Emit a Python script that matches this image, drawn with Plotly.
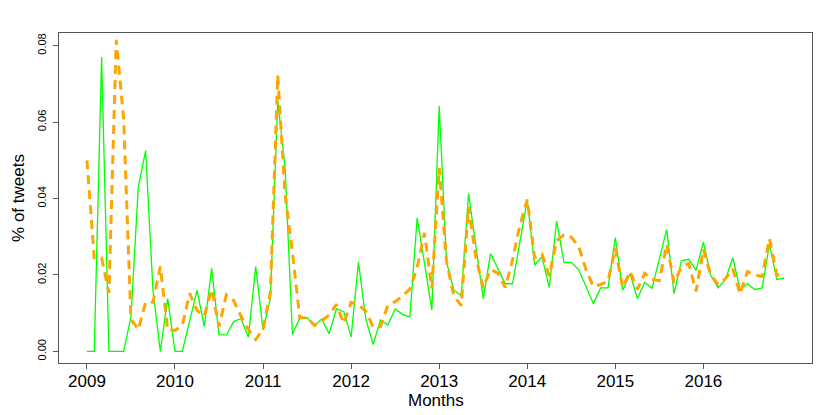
import plotly.graph_objects as go

# Monthly time axis, Jan 2009 .. Dec 2016 (decimal years)
start_year = 2009
n_months = 96
months = [start_year + i / 12 for i in range(n_months)]

green_share = [
    0.0, 0.0, 0.077, 0.0, 0.0, 0.0, 0.009, 0.043, 0.0525, 0.016, 0.0, 0.0138,
    0.0, 0.0, 0.008, 0.016, 0.0065, 0.0217, 0.0044, 0.0043, 0.0078, 0.0086, 0.0037, 0.0222,
    0.0056, 0.014, 0.0656, 0.048, 0.0045, 0.0087, 0.0088, 0.0066, 0.0085, 0.0046, 0.0111, 0.0104,
    0.0038, 0.0233, 0.0085, 0.0018, 0.0082, 0.0069, 0.0111, 0.0097, 0.009, 0.0349, 0.023, 0.0108,
    0.0642, 0.0233, 0.016, 0.0146, 0.0413, 0.0275, 0.0138, 0.0256, 0.0216, 0.0177, 0.0177, 0.0286,
    0.0397, 0.0226, 0.0247, 0.0167, 0.0341, 0.0233, 0.0233, 0.0214, 0.0168, 0.0125, 0.0166, 0.0166,
    0.0298, 0.016, 0.0203, 0.0138, 0.0181, 0.0165, 0.0242, 0.0319, 0.0151, 0.0237, 0.0241, 0.0212,
    0.0286, 0.0199, 0.0166, 0.0188, 0.0245, 0.0162, 0.0177, 0.0162, 0.0166, 0.028, 0.0188, 0.0192,
]

orange_share = [
    0.050, 0.0245, 0.0245, 0.0153, 0.0815, 0.061, 0.0084, 0.0057, 0.0128, 0.0129, 0.0222, 0.0056,
    0.0055, 0.0068, 0.0152, 0.0107, 0.0092, 0.0162, 0.0065, 0.0148, 0.0133, 0.0092, 0.0057, 0.0031,
    0.0058, 0.0154, 0.0723, 0.041, 0.026, 0.0088, 0.0088, 0.0068, 0.0080, 0.0095, 0.0123, 0.0073,
    0.0128, 0.0122, 0.0105, 0.0064, 0.0065, 0.012, 0.013, 0.0145, 0.0163, 0.022, 0.031, 0.0165,
    0.048, 0.0235, 0.0145, 0.012, 0.0378, 0.0245, 0.0167, 0.0214, 0.0205, 0.0167, 0.024, 0.033,
    0.0397, 0.0245, 0.0255, 0.0197, 0.0290, 0.0305, 0.0299, 0.0275, 0.0214, 0.017, 0.0175, 0.0184,
    0.027, 0.0167, 0.0209, 0.0162, 0.0204, 0.0188, 0.0185, 0.028, 0.018, 0.022, 0.023, 0.0157,
    0.0267, 0.020, 0.0175, 0.019, 0.0216, 0.015, 0.0209, 0.020, 0.0196, 0.0295, 0.020, 0.0195,
]

year_ticks = [2009, 2010, 2011, 2012, 2013, 2014, 2015, 2016]
y_ticks = [0.0, 0.02, 0.04, 0.06, 0.08]
y_tick_labels = ["0.00", "0.02", "0.04", "0.06", "0.08"]

FONT = "Liberation Sans, Arial, Helvetica, sans-serif"
FRAME = "#555555"

fig = go.Figure()
fig.add_trace(go.Scatter(
    x=months, y=green_share, mode="lines",
    line=dict(color="#00FF00", width=1.3), showlegend=False, hoverinfo="skip",
))
fig.add_trace(go.Scatter(
    x=months, y=orange_share, mode="lines",
    line=dict(color="#FFA500", width=3, dash="9px,6px"), showlegend=False, hoverinfo="skip",
))

fig.update_layout(
    width=830, height=415,
    margin=dict(l=59, r=18, t=33, b=52, autoexpand=False),
    plot_bgcolor="white", paper_bgcolor="white",
    font=dict(family=FONT, color="black"),
    xaxis=dict(
        range=[2008.683, 2017.233], tickvals=year_ticks,
        ticktext=[str(y) for y in year_ticks], automargin=False,
        ticks="outside", ticklen=5, tickcolor=FRAME, tickwidth=1,
        ticklabelstandoff=-2,
        tickfont=dict(size=17, family=FONT, color="black"),
        showline=True, mirror=True, linecolor=FRAME, linewidth=1,
        showgrid=False, zeroline=False,
    ),
    yaxis=dict(
        range=[-0.00304, 0.0833], tickvals=y_ticks, ticktext=y_tick_labels,
        automargin=False, ticklabelstandoff=3,
        tickangle=-90, ticks="outside", ticklen=5, tickcolor=FRAME, tickwidth=1,
        tickfont=dict(size=11, family=FONT, color="black"),
        showline=True, mirror=True, linecolor=FRAME, linewidth=1,
        showgrid=False, zeroline=False,
    ),
    annotations=[
        dict(text="Months", xref="paper", yref="paper", x=0.5, y=-0.115,
             xanchor="center", yanchor="middle", showarrow=False,
             font=dict(size=17, family=FONT, color="black")),
        dict(text="% of tweets", xref="paper", yref="paper", x=-0.0545, y=0.5,
             xanchor="center", yanchor="middle", textangle=-90, showarrow=False,
             font=dict(size=17, family=FONT, color="black")),
    ],
)

fig.write_html(
    "out.html",
    config={"displayModeBar": False, "staticPlot": True},
    post_script="document.body.style.margin='0';document.body.style.overflow='hidden';",
)
